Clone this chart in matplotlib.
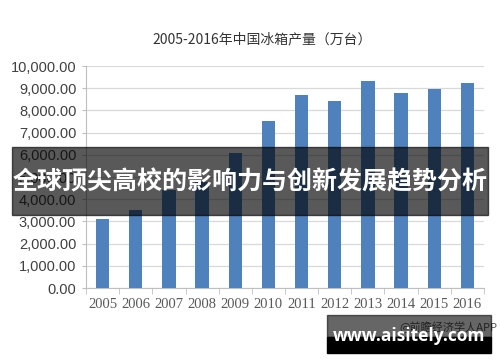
import numpy as np
import matplotlib
matplotlib.use("Agg")
import matplotlib.pyplot as plt
from matplotlib.patches import Rectangle

years = ["2005", "2006", "2007", "2008", "2009", "2010",
         "2011", "2012", "2013", "2014", "2015", "2016"]
output = [3100, 3530, 4400, 4760, 6080, 7520,
          8690, 8420, 9320, 8780, 8960, 9230]
yticks = [0, 1000, 2000, 3000, 4000, 5000, 6000, 7000, 8000, 9000, 10000]

title = "2005-2016年中国冰箱产量（万台）"
banner = "全球顶尖高校的影响力与创新发展趋势分析"
source = "@前瞻经济学人APP"
site = "www.aisitely.com"

CJK = ["Noto Sans CJK SC", "DejaVu Sans"]

fig = plt.figure(figsize=(5.0, 3.62), dpi=100)
ax = fig.add_axes([0.172, 0.2044, 0.796, 0.613])

x = np.arange(len(years))
ax.bar(x, output, width=0.4, color="#4f81bd", zorder=3)

ax.set_xlim(-0.5, len(years) - 0.5)
ax.set_ylim(0, 10000)
ax.set_yticks(yticks)
ax.set_yticklabels([f"{v:,.2f}" for v in yticks], family="Liberation Sans",
                   fontsize=10.5, color="#404040")
ax.yaxis.grid(True, color="#d9d9d9", lw=0.9, zorder=0)

ax.set_xticks(x)
ax.set_xticklabels(years, family="Liberation Serif", fontsize=10.5, color="#595959")
ax.tick_params(axis="x", length=0, pad=7)
ax.set_xticks(np.arange(-0.5, len(years)), minor=True)
ax.tick_params(axis="x", which="minor", length=4, color="#bfbfbf")
ax.tick_params(axis="y", length=3, color="#bfbfbf", pad=4)

for s in ["top", "right"]:
    ax.spines[s].set_visible(False)
for s in ["left", "bottom"]:
    ax.spines[s].set_color("#bfbfbf")

fig.text(0.524, 0.89, title, family=CJK, fontsize=10, color="#333333",
         ha="center", va="center")

# dark banner overlay
fig.patches.append(Rectangle((0.024, 1 - 215 / 362), 0.952, 68 / 362,
                             transform=fig.transFigure, color="black",
                             alpha=0.65, zorder=5))
fig.text(0.5, 1 - 182 / 362, banner, family=CJK, fontsize=18, weight="bold",
         color="white", ha="center", va="center", zorder=6)

# source + site watermark
fig.text(0.994, 1 - 327 / 362, source, family=CJK, fontsize=8, color="#555555",
         ha="right", va="center", zorder=4)
fig.patches.append(Rectangle((0.654, 1 - 337 / 362), 0.328, 22 / 362,
                             transform=fig.transFigure, color="black",
                             alpha=0.6, zorder=5))
fig.patches.append(Rectangle((0.654, 1 - 353 / 362), 0.328, 16 / 362,
                             transform=fig.transFigure, color="black", zorder=5))
fig.text(0.818, 1 - 336 / 362, site, family="Open Sans", fontsize=12.5,
         weight="bold", color="white", ha="center", va="center", zorder=6)

fig.savefig("out.png", dpi=100)
